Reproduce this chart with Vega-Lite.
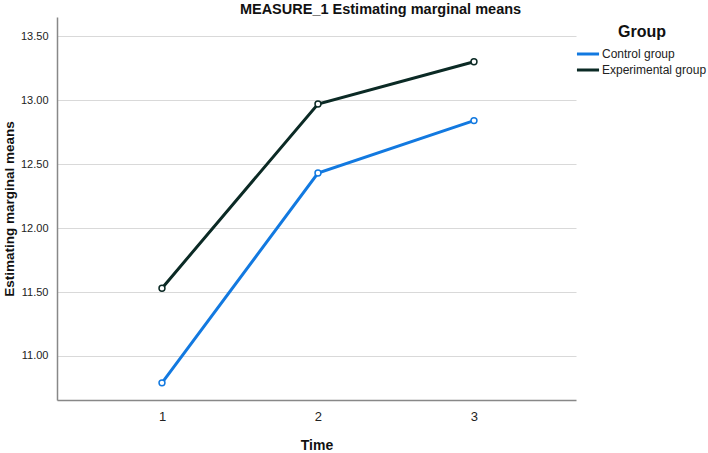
{
  "$schema": "https://vega.github.io/schema/vega-lite/v6.json",
  "autosize": "none",
  "width": 519,
  "height": 383,
  "padding": {"left": 57, "top": 17, "right": 132, "bottom": 53},
  "background": "white",
  "config": {
    "font": "Liberation Sans",
    "view": {"stroke": null}
  },
  "title": {
    "text": "MEASURE_1 Estimating marginal means",
    "fontSize": 14.5,
    "fontWeight": "bold",
    "color": "#111111",
    "anchor": "middle",
    "dx": 64,
    "offset": 0
  },
  "data": {
    "values": [
      {"Time": 1, "Group": "Control group", "Mean": 10.79},
      {"Time": 2, "Group": "Control group", "Mean": 12.43},
      {"Time": 3, "Group": "Control group", "Mean": 12.84},
      {"Time": 1, "Group": "Experimental group", "Mean": 11.53},
      {"Time": 2, "Group": "Experimental group", "Mean": 12.97},
      {"Time": 3, "Group": "Experimental group", "Mean": 13.30}
    ]
  },
  "encoding": {
    "x": {
      "field": "Time",
      "type": "quantitative",
      "scale": {"domain": [0.327, 3.654], "nice": false, "zero": false},
      "axis": {
        "values": [1, 2, 3],
        "format": "d",
        "title": "Time",
        "titleFontSize": 14,
        "titleFontWeight": "bold",
        "titleColor": "#111111",
        "titlePadding": 15,
        "labelFontSize": 13,
        "labelColor": "#222222",
        "labelPadding": 10,
        "ticks": false,
        "grid": false,
        "domainColor": "#888888",
        "domainWidth": 1.5
      }
    },
    "y": {
      "field": "Mean",
      "type": "quantitative",
      "scale": {"domain": [10.656, 13.65], "nice": false, "zero": false},
      "axis": {
        "values": [11, 11.5, 12, 12.5, 13, 13.5],
        "format": ".2f",
        "title": "Estimating marginal means",
        "titleFontSize": 13.5,
        "titleFontWeight": "bold",
        "titleColor": "#111111",
        "titlePadding": 4,
        "labelFontSize": 11,
        "labelColor": "#222222",
        "labelPadding": 9,
        "ticks": false,
        "grid": true,
        "gridColor": "#d9d9d9",
        "gridWidth": 1.2,
        "domainColor": "#888888",
        "domainWidth": 1.5
      }
    }
  },
  "layer": [
    {
      "mark": {"type": "line", "strokeWidth": 3},
      "encoding": {
        "color": {
          "field": "Group",
          "type": "nominal",
          "scale": {"domain": ["Control group", "Experimental group"], "range": ["#1279e0", "#0b2a25"]},
          "legend": {
            "title": "Group",
            "orient": "none",
            "legendX": 521,
            "legendY": 7,
            "titleFontSize": 16,
            "titleFontWeight": "bold",
            "titleColor": "#111111",
            "titleAnchor": "middle",
            "titlePadding": 4,
            "labelFontSize": 12,
            "labelColor": "#222222",
            "symbolType": "M-1.3,0H1.3",
            "symbolStrokeWidth": 3,
            "symbolSize": 289,
            "rowPadding": 0,
            "labelOffset": 4
          }
        }
      }
    },
    {
      "mark": {"type": "point", "shape": "circle", "filled": false, "fill": "white", "size": 35, "strokeWidth": 1.5, "opacity": 1},
      "encoding": {
        "stroke": {
          "field": "Group",
          "type": "nominal",
          "scale": {"domain": ["Control group", "Experimental group"], "range": ["#1279e0", "#0b2a25"]},
          "legend": null
        }
      }
    }
  ]
}
